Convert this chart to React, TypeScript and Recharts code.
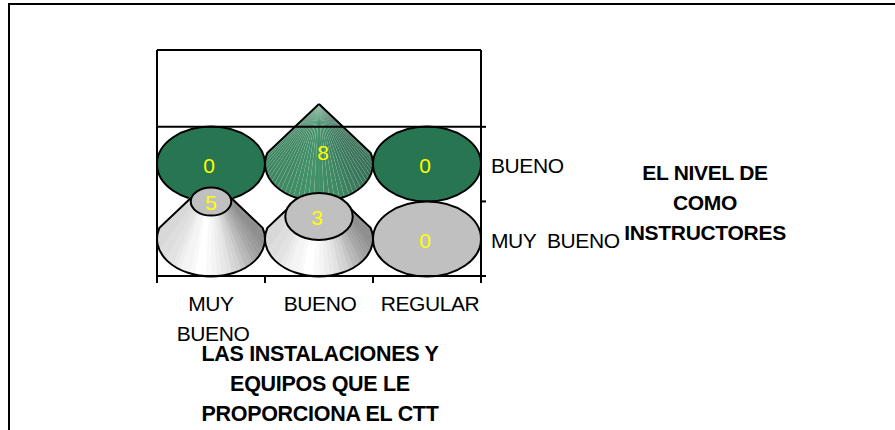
import { Bar, BarChart, ReferenceLine, XAxis, YAxis } from "recharts";

const CATEGORIES = ["MUY BUENO", "BUENO", "REGULAR"];
const MUY_BUENO = [5, 3, 0];
const BUENO = [0, 8, 0];
const SERIES_NAMES = ["MUY  BUENO", "BUENO"];
const X_TITLE = ["LAS INSTALACIONES Y", "EQUIPOS QUE LE", "PROPORCIONA EL CTT"];
const Y_TITLE = ["EL NIVEL DE", "COMO", "INSTRUCTORES"];

const MAX_VALUE = 8;
const FRONT_DOMAIN = [-4.93, 25.2];
const BACK_DOMAIN = [-14.93, 15.2];
const ROW_DOMAIN = [0, 3.03];
const ROW_TICKS = [0, 1, 2];
const ROW_LABEL_TICKS = [0.5, 1.5];

const FONT = "'Liberation Sans', Arial, sans-serif";
const ELLIPSE_RY = 37.5;
// where the cone's sides meet the base ellipse, as fractions of its radii
const SIDE_X = 0.955;
const SIDE_Y = -0.3;

const data = CATEGORIES.map((name, i) => ({
  name,
  muyBueno: MUY_BUENO[i],
  bueno: BUENO[i],
}));

type Palette = {
  cap: string;
  shade: (t: number) => string;
  seam: string;
  opacity: number;
};

const GREY: Palette = {
  cap: "#c0c0c0",
  shade: (t) => {
    const v = Math.round(140 + 115 * t);
    return `rgb(${v},${v},${v})`;
  },
  seam: "none",
  opacity: 1,
};

const GREEN: Palette = {
  cap: "#277551",
  shade: (t) => {
    return `rgb(${Math.round(38 + 12 * t)},${Math.round(98 + 38 * t)},${Math.round(72 + 20 * t)})`;
  },
  seam: "rgba(255,255,255,0.1)",
  opacity: 0.92,
};

// brightest a little left of the middle, darkest on the right edge
function lightAt(u: number) {
  const t = u < -0.25 ? 1 - ((-0.25 - u) / 0.75) * 0.35 : 1 - Math.pow((u + 0.25) / 1.25, 1.8);
  return Math.round(t * 20) / 20;
}

function Cone(props: any, palette: Palette) {
  const { x, y, width, height, value } = props;
  const cx = x + width / 2;
  const yb = y + height;
  const rx = width / 2;
  const ry = ELLIPSE_RY;

  if (!value) {
    return (
      <g>
        <ellipse cx={cx} cy={yb} rx={rx} ry={ry} fill={palette.cap} stroke="#000" strokeWidth={2} />
        <text x={cx - 2} y={yb + 9} textAnchor="middle" fontFamily={FONT} fontSize={21} fill="#ffff00">
          {value}
        </text>
      </g>
    );
  }

  // cone narrows linearly with the value and closes at the axis maximum
  const k = 1 - value / MAX_VALUE;
  const coneH = height / (value / MAX_VALUE);
  const yt = yb - height;
  const apexY = yb - coneH;
  const sideY = yb + ry * SIDE_Y;
  const topSideY = apexY + (sideY - apexY) * k;

  // base point for a fan angle: on the ellipse in front, on the straight side behind
  const basePoint = (a: number) => {
    const c = Math.cos(a);
    const px = cx + rx * c;
    if (Math.sin(a) >= SIDE_Y || Math.abs(c) >= SIDE_X) return [px, yb + ry * Math.sin(a)];
    return [px, Math.max(topSideY, apexY + (Math.abs(c) / SIDE_X) * (sideY - apexY))];
  };

  const steps = 64;
  const order = Array.from({ length: steps }, (_, i) => i).sort(
    (a, b) => Math.sin(((a + 0.5) / steps) * Math.PI * 2) - Math.sin(((b + 0.5) / steps) * Math.PI * 2),
  );
  const quads = order.map((i) => {
    const a0 = (i / steps) * Math.PI * 2;
    const a1 = ((i + 1) / steps) * Math.PI * 2;
    const fill = palette.shade(lightAt(Math.cos((a0 + a1) / 2)));
    const p0 = basePoint(a0);
    const p1 = basePoint(a1);
    const d = [
      `M${p0[0]},${p0[1]}`,
      `L${p1[0]},${p1[1]}`,
      `L${cx + k * rx * Math.cos(a1)},${yt + k * ry * Math.sin(a1)}`,
      `L${cx + k * rx * Math.cos(a0)},${yt + k * ry * Math.sin(a0)}`,
      "Z",
    ].join("");
    return <path key={i} d={d} fill={fill} stroke={palette.seam === "none" ? fill : palette.seam} strokeWidth={0.5} />;
  });

  const baseL = [cx - rx * SIDE_X, sideY];
  const baseR = [cx + rx * SIDE_X, sideY];
  const topL = [cx - rx * SIDE_X * k, topSideY];
  const topR = [cx + rx * SIDE_X * k, topSideY];
  const outline = `M${topL[0]},${topL[1]}L${baseL[0]},${baseL[1]}A${rx},${ry} 0 1 0 ${baseR[0]},${baseR[1]}L${topR[0]},${topR[1]}`;

  const labelX = cx + (value === 3 ? -2 : value === 8 ? 4 : 0);
  const labelY = value === 8 ? yt + 56 : yt + 8;

  return (
    <g>
      <g opacity={palette.opacity}>{quads}</g>
      <path d={outline} fill="none" stroke="#000" strokeWidth={2} />
      {k > 0 && <ellipse cx={cx} cy={yt} rx={k * rx} ry={k * ry} fill={palette.cap} stroke="#000" strokeWidth={2} />}
      <text x={labelX} y={labelY} textAnchor="middle" fontFamily={FONT} fontSize={21} fill="#ffff00">
        {value}
      </text>
    </g>
  );
}

// tick marks sit on the band edges, so they are drawn half a band from the label
function CategoryTick({ x, y, payload, index, width }: any) {
  const words = String(payload.value).split(" ");
  const dx = index === 2 ? 3 : index === 1 ? 1 : 0;
  const half = width / CATEGORIES.length / 2;
  return (
    <g>
      <line x1={x - half} x2={x - half} y1={y} y2={y + 7} stroke="#000" strokeWidth={2} />
      {index === CATEGORIES.length - 1 && <line x1={x + half} x2={x + half} y1={y} y2={y + 7} stroke="#000" strokeWidth={2} />}
      {words.map((w, i) => (
        <text key={w} x={x + dx + i * 2} y={y + 35 + i * 30} textAnchor="middle" fontFamily={FONT} fontSize={21} letterSpacing={-0.4} fill="#000">
          {w}
        </text>
      ))}
    </g>
  );
}

function RowLabelTick({ x, y, index }: any) {
  return (
    <text x={x - 6} y={y + 9} fontFamily={FONT} fontSize={21} letterSpacing={-0.4} fill="#000" style={{ whiteSpace: "pre" }}>
      {SERIES_NAMES[index]}
    </text>
  );
}

function EmptyTick() {
  return <g />;
}

function TitleLines({ lines, x, y, size }: { lines: string[]; x: number; y: number; size: number }) {
  return (
    <g>
      {lines.map((line, i) => (
        <text key={line} x={x} y={y + i * 30} textAnchor="middle" fontFamily={FONT} fontSize={size} fontWeight="bold" letterSpacing={-0.3} fill="#000">
          {line}
        </text>
      ))}
    </g>
  );
}

export default function App() {
  return (
    <div style={{ position: "absolute", left: 0, top: 0, width: 895, height: 430, overflow: "hidden", background: "#fff" }}>
      <div style={{ position: "absolute", left: 8, top: 3, width: 900, height: 440, borderTop: "2px solid #000", borderLeft: "2px solid #000", boxSizing: "border-box" }} />
      <div style={{ position: "absolute", left: 0, top: 0 }}>
        <BarChart
          width={895}
          height={430}
          data={data}
          barCategoryGap={0}
          margin={{ top: 50, left: 156, right: 294, bottom: 0 }}
        >
          <XAxis
            xAxisId="front"
            dataKey="name"
            height={154}
            axisLine={{ stroke: "#000", strokeWidth: 2 }}
            tickLine={false}
            tickSize={0}
            tickMargin={0}
            tick={CategoryTick}
            interval={0}
          />
          <XAxis xAxisId="back" dataKey="name" hide height={0} />
          <YAxis yAxisId="front" hide width={0} domain={FRONT_DOMAIN} />
          <YAxis yAxisId="back" hide width={0} domain={BACK_DOMAIN} />
          <YAxis yAxisId="left" orientation="left" width={1} tick={false} tickLine={false} axisLine={{ stroke: "#000", strokeWidth: 2 }} domain={ROW_DOMAIN} allowDataOverflow />
          <YAxis
            yAxisId="depthAxis"
            orientation="right"
            width={10}
            domain={ROW_DOMAIN}
            ticks={ROW_TICKS}
            tick={EmptyTick}
            tickSize={5}
            axisLine={{ stroke: "#000", strokeWidth: 2 }}
            tickLine={{ stroke: "#000", strokeWidth: 2 }}
            allowDataOverflow
          />
          <YAxis
            yAxisId="depthNames"
            orientation="right"
            width={110}
            domain={ROW_DOMAIN}
            ticks={ROW_LABEL_TICKS}
            axisLine={false}
            tickLine={false}
            tick={RowLabelTick}
            tickMargin={0}
            allowDataOverflow
          />
          <ReferenceLine xAxisId="front" yAxisId="depthAxis" y={2} stroke="#000" strokeWidth={2} />
          <ReferenceLine xAxisId="front" yAxisId="depthAxis" y={ROW_DOMAIN[1]} stroke="#000" strokeWidth={2} />
          <Bar
            xAxisId="back"
            yAxisId="back"
            dataKey="bueno"
            isAnimationActive={false}
            shape={(p: any) => Cone(p, GREEN)}
          />
          <Bar
            xAxisId="front"
            yAxisId="front"
            dataKey="muyBueno"
            isAnimationActive={false}
            shape={(p: any) => Cone(p, GREY)}
          />
          <TitleLines lines={X_TITLE} x={320} y={361} size={21.5} />
          <TitleLines lines={Y_TITLE} x={705} y={180} size={21} />
        </BarChart>
      </div>
    </div>
  );
}
